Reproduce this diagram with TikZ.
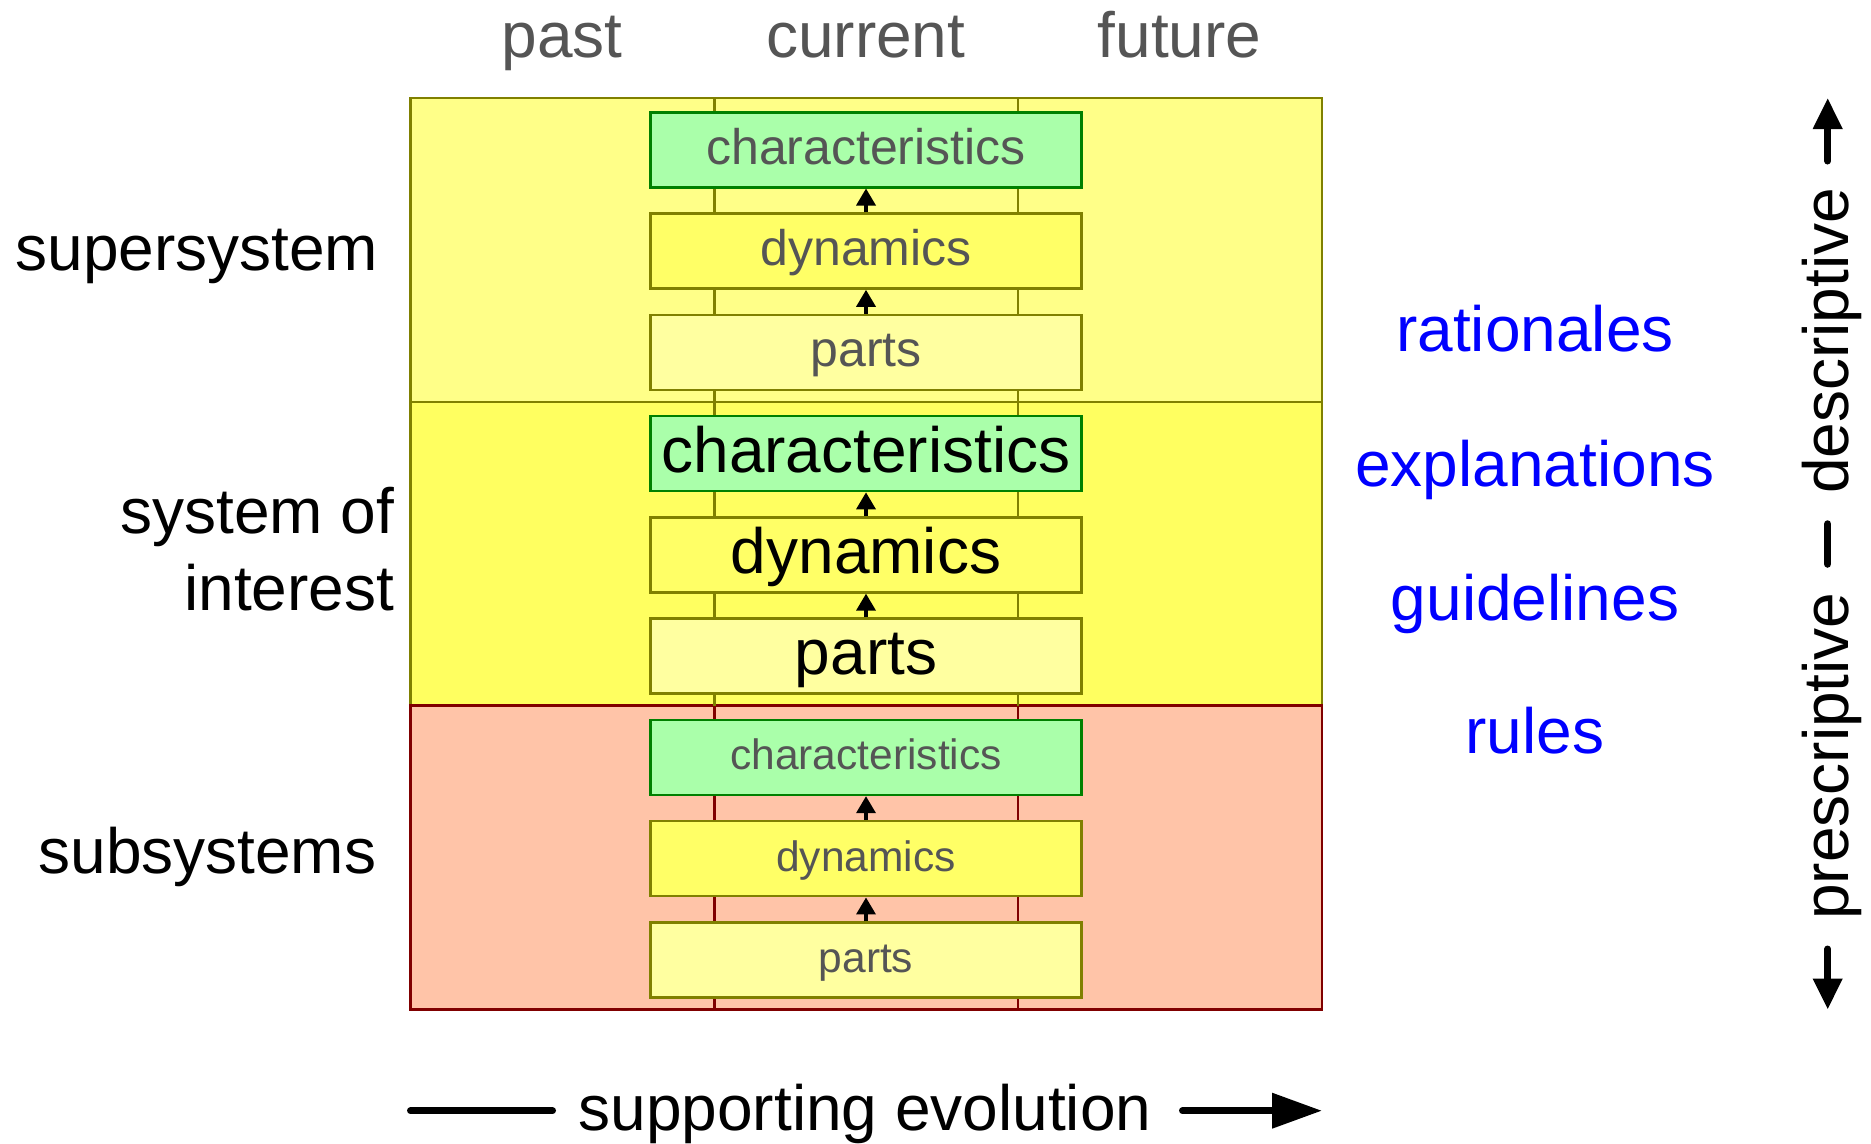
\documentclass[tikz,border=0pt]{standalone}
\usepackage{fontspec}
\setmainfont{Liberation Sans}
\usetikzlibrary{arrows.meta}
\definecolor{rowA}{HTML}{FFFF88}
\definecolor{rowB}{HTML}{FFFF60}
\definecolor{rowC}{HTML}{FFC4A8}
\definecolor{olivec}{HTML}{808000}
\definecolor{dredc}{HTML}{800000}
\definecolor{chfill}{HTML}{AAFFAA}
\definecolor{chdraw}{HTML}{008000}
\definecolor{dyfill}{HTML}{FFFF66}
\definecolor{pafill}{HTML}{FFFFA0}
\definecolor{txtgray}{HTML}{555555}
\definecolor{bluec}{HTML}{0000FF}
\begin{document}
\begin{tikzpicture}[x=1pt,y=-1pt,
  big/.style={font=\fontsize{64}{76.7}\selectfont, inner sep=0pt},
  box/.style={line width=2.5pt, minimum width=431pt, minimum height=75pt, inner sep=0pt, anchor=north},
  chbox/.style={box, fill=chfill, draw=chdraw},
  dybox/.style={box, fill=dyfill, draw=olivec},
  pabox/.style={box, fill=pafill, draw=olivec},
  uparrow/.style={-{Triangle[length=17pt,width=19pt]}, line width=3.5pt},
  fatline/.style={line width=7pt, line cap=round},
]
\useasboundingbox[fill=white] (0,0) rectangle (1871,1143);

% rows
\foreach \i/\fc/\bc in {0/rowA/olivec, 1/rowB/olivec, 2/rowC/dredc}{
  \pgfmathsetmacro\rtop{98+\i*303.83}
  \draw[fill=\fc, draw=\bc, line width=2.5pt] (410.5,\rtop) rectangle (1322,\rtop+303.83);
}
% columns and boxes
\foreach \i/\bc/\fsz/\tc in {0/olivec/50/txtgray, 1/olivec/64/black, 2/dredc/42.5/txtgray}{
  \pgfmathsetmacro\rtop{98+\i*303.83}
  \pgfmathsetmacro\th{0.75*\fsz}
  \pgfmathsetmacro\td{0.17*\fsz}
  \draw[\bc, line width=2.5pt] (714.3,\rtop) -- (714.3,\rtop+303.83);
  \draw[\bc, line width=2.5pt] (1018.2,\rtop) -- (1018.2,\rtop+303.83);
  \tikzset{btext/.style={text=\tc, font=\fontsize{\fsz}{\fsz}\selectfont, text height=\th pt, text depth=\td pt}}
  \node[chbox, btext] (c\i) at (866,\rtop+13) {characteristics};
  \node[dybox, btext] (d\i) at (866,\rtop+114.3) {dynamics};
  \node[pabox, btext] (p\i) at (866,\rtop+215.6) {parts};
  \draw[uparrow] (p\i.north) -- (d\i.south);
  \draw[uparrow] (d\i.north) -- (c\i.south);
}

% column headings
\node[big, text=txtgray, anchor=base] (past) at (562,57) {past};
\node[big, text=txtgray, anchor=base] (current) at (865.7,57) {current};
\node[big, text=txtgray, anchor=base] (future) at (1179.5,57) {future};

% row labels
\node[big, anchor=base east] (lsuper) at (378.5,270) {supersystem};
\node[big, anchor=east, align=right] (lsoi) at (394.3,549) {system of\\interest};
\node[big, anchor=base east] (lsub) at (376.5,873.5) {subsystems};

% right labels
\node[big, text=bluec, anchor=base] (rrat) at (1535,351.7) {rationales};
\node[big, text=bluec, anchor=base] (rexp) at (1535,486.7) {explanations};
\node[big, text=bluec, anchor=base] (rgui) at (1535,620) {guidelines};
\node[big, text=bluec, anchor=base] (rrul) at (1535,753) {rules};

% vertical scale
\node[big, rotate=90, anchor=base] (desc) at (1848,341) {descriptive};
\node[big, rotate=90, anchor=base] (presc) at (1848,756) {prescriptive};
\coordinate (ua0) at (1827.7,161);
\coordinate (ua1) at (1827.7,98);
\coordinate (da0) at (1827.7,949);
\coordinate (da1) at (1827.7,1009.5);
\coordinate (dm0) at (1827.7,524);
\coordinate (dm1) at (1827.7,564);
\draw[fatline, -{Triangle[length=31pt,width=28pt]}] (ua0) -- (ua1);
\draw[fatline, -{Triangle[length=31pt,width=28pt]}] (da0) -- (da1);
\draw[line width=7.5pt, line cap=round] (dm0) -- (dm1);

% horizontal scale
\node[big, anchor=base] (evol) at (865,1130) {supporting evolution};
\coordinate (bl0) at (410.5,1110.7);
\coordinate (bl1) at (552.5,1110.7);
\coordinate (ba0) at (1182.5,1110.7);
\coordinate (ba1) at (1322,1110.7);
\draw[fatline] (bl0) -- (bl1);
\draw[fatline, -{Triangle[length=50pt,width=34pt]}] (ba0) -- (ba1);
\end{tikzpicture}
\end{document}
